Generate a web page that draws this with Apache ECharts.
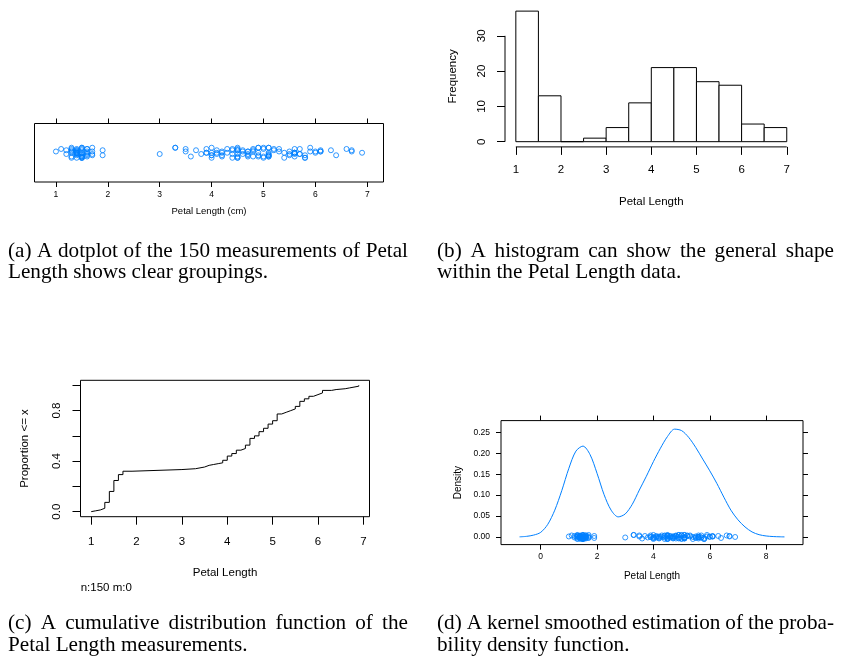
<!DOCTYPE html>
<html>
<head>
<meta charset="utf-8">
<script src="https://cdn.jsdelivr.net/npm/echarts@6/dist/echarts.min.js"></script>
<style>
  html, body { margin: 0; padding: 0; background: #fff; }
  #chart { width: 843px; height: 659px; }
</style>
</head>
<body>
<div id="chart"></div>
<script>
// Petal length (cm) of the 150 iris flowers, in dataset order
const petalLength = [
  1.4,1.4,1.3,1.5,1.4,1.7,1.4,1.5,1.4,1.5,1.5,1.6,1.4,1.1,1.2,1.5,1.3,1.4,1.7,1.5,
  1.7,1.5,1.0,1.7,1.9,1.6,1.6,1.5,1.4,1.6,1.6,1.5,1.5,1.4,1.5,1.2,1.3,1.4,1.3,1.5,
  1.3,1.3,1.3,1.6,1.9,1.4,1.6,1.4,1.5,1.4,
  4.7,4.5,4.9,4.0,4.6,4.5,4.7,3.3,4.6,3.9,3.5,4.2,4.0,4.7,3.6,4.4,4.5,4.1,4.5,3.9,
  4.8,4.0,4.9,4.7,4.3,4.4,4.8,5.0,4.5,3.5,3.8,3.7,3.9,5.1,4.5,4.5,4.7,4.4,4.1,4.0,
  4.4,4.6,4.0,3.3,4.2,4.2,4.2,4.3,3.0,4.1,
  6.0,5.1,5.9,5.6,5.8,6.6,4.5,6.3,5.8,6.1,5.1,5.3,5.5,5.0,5.1,5.3,5.5,6.7,6.9,5.0,
  5.7,4.9,6.7,4.9,5.7,6.0,4.8,4.9,5.6,5.8,6.1,6.4,5.6,5.1,5.6,6.1,5.6,5.5,4.8,5.4,
  5.6,5.1,5.1,5.9,5.7,5.2,5.0,5.2,5.4,5.1
];

// Vertical jitter steps for the strip and rug points (one per flower)
const jitter = [
  2,-1,3,-3,0,1,-4,2,-2,4, 0,-3,1,3,-1,-4,2,0,-2,3, 4,-3,1,-1,-2,0,3,-4,2,-1,
  1,4,-3,0,-2,2,-4,3,1,-1, 0,-3,4,-2,2,-1,3,0,-4,1,
  -2,3,0,-4,1,2,-3,4,-1,0, 3,-2,4,1,-3,-1,2,0,-4,3, 1,-2,4,-1,0,2,-3,3,-4,1,
  -1,2,0,-2,4,-3,1,3,-1,0, -4,2,-2,4,1,-3,0,3,-1,2,
  1,-3,4,0,-2,3,-1,2,-4,1, 0,3,-2,4,-3,1,-1,2,0,-4, 3,-2,1,4,-1,0,2,-3,3,-4,
  1,-2,0,4,-1,2,-3,1,3,-4, 0,-2,4,1,-1,3,-3,2,0,-1
];

// Histogram: bin edges and counts
const histBreaks = [1, 1.5, 2, 2.5, 3, 3.5, 4, 4.5, 5, 5.5, 6, 6.5, 7];
const histCounts = [37, 13, 0, 1, 4, 11, 21, 21, 17, 16, 5, 4];

// Kernel density estimate of petal length
const densityX = [-0.75,-0.5,-0.25,0,0.25,0.5,0.75,1.0,1.25,1.5,1.75,2.0,2.25,2.5,2.75,
  3.0,3.25,3.5,3.75,4.0,4.25,4.5,4.75,5.0,5.25,5.5,5.75,6.0,6.25,6.5,6.75,7.0,7.25,
  7.5,7.75,8.0,8.25,8.5,8.65];
const densityY = [0.0003,0.0015,0.0045,0.011,0.030,0.064,0.111,0.164,0.205,0.217,0.197,
  0.152,0.101,0.064,0.048,0.055,0.078,0.112,0.145,0.180,0.212,0.240,0.2575,0.254,0.238,
  0.214,0.186,0.158,0.128,0.095,0.064,0.041,0.024,0.012,0.0055,0.0024,0.001,0.0004,0.0002];

// Tick values
const ticksDot = [1, 2, 3, 4, 5, 6, 7];
const ticksHistX = [1, 2, 3, 4, 5, 6, 7];
const ticksHistY = [0, 10, 20, 30];
const ticksEcdfX = [1, 2, 3, 4, 5, 6, 7];
const ticksEcdfY = [0, 0.2, 0.4, 0.6, 0.8, 1.0];
const labelsEcdfY = [0, 0.4, 0.8];
const ticksDensX = [0, 2, 4, 6, 8];
const ticksDensY = [0, 0.05, 0.10, 0.15, 0.20, 0.25];

// Sub-figure captions
const captionA = ['(a) A dotplot of the 150 measurements of Petal', 'Length shows clear groupings.'];
const captionB = ['(b) A histogram can show the general shape', 'within the Petal Length data.'];
const captionC = ['(c) A cumulative distribution function of the', 'Petal Length measurements.'];
const captionD = ['(d) A kernel smoothed estimation of the proba-', 'bility density function.'];

const SANS = '"Liberation Sans", Arial, Helvetica, sans-serif';
const SERIF = '"Liberation Serif", "Times New Roman", Times, serif';
const BLUE = '#0080ff';

// Empirical CDF from the sorted measurements
const sorted = petalLength.slice().sort((a, b) => a - b);
const ecdf = [[sorted[0], 0]];
sorted.forEach((v, i) => {
  if (i === sorted.length - 1 || sorted[i + 1] !== v) ecdf.push([v, (i + 1) / sorted.length]);
});

const histData = histCounts.map((c, i) => [histBreaks[i], histBreaks[i + 1], c]);

// Axis ranges
const dotX = [0.587, 7.313];
const histXR = [0.76, 7.24], histYR = [-1.48, 38.48];
const ecdfXR = [0.764, 7.136], ecdfYR = [-0.04, 1.04];
const densXR = [-1.408, 9.308], densYR = [-0.0182, 0.2779];

// Value axis showing ticks (and optionally labels) only where listed
function tickAxis(o) {
  return Object.assign({
    type: 'value',
    splitLine: { show: false },
    nameLocation: 'middle'
  }, o, {
    axisLine: { show: false, onZero: false },
    axisTick: Object.assign({ show: true, lineStyle: { color: '#000', width: 1 } }, o.axisTick || {}),
    axisLabel: Object.assign({ show: true, color: '#000', fontFamily: SANS }, o.axisLabel || {}),
    nameTextStyle: Object.assign({ color: '#000', fontFamily: SANS }, o.nameTextStyle || {})
  });
}

// Caption layout: first line justified to the column width, last line natural
const measureCtx = document.createElement('canvas').getContext('2d');
const capSize = 21.2;
measureCtx.font = capSize + 'px ' + SERIF;
function captionText(str, x, y) {
  return {
    type: 'text', x: x, y: y, silent: true,
    style: { text: str, fontSize: capSize, fontFamily: SERIF, fill: '#000',
             align: 'left', verticalAlign: 'middle' }
  };
}
function caption(lines, left, width, top, lineGap) {
  const els = [];
  lines.forEach((line, li) => {
    const y = top + li * lineGap;
    if (li === lines.length - 1) { els.push(captionText(line, left, y)); return; }
    const words = line.split(' ');
    const widths = words.map(w => measureCtx.measureText(w).width);
    const gap = (width - widths.reduce((a, b) => a + b, 0)) / (words.length - 1);
    let x = left;
    words.forEach((w, i) => { els.push(captionText(w, x, y)); x += widths[i] + gap; });
  });
  return els;
}

const chart = echarts.init(document.getElementById('chart'), null, { renderer: 'canvas' });

const option = {
  backgroundColor: '#fff',
  animation: false,
  grid: [
    { left: 34.5, top: 123.5, width: 349, height: 58.5, show: true, borderColor: '#000', borderWidth: 1, backgroundColor: 'transparent' },
    { left: 505, top: 5.9, width: 292.6, height: 141 },
    { left: 80.5, top: 380.3, width: 289, height: 136.4, show: true, borderColor: '#000', borderWidth: 1, backgroundColor: 'transparent' },
    { left: 501, top: 420.6, width: 302, height: 124, show: true, borderColor: '#000', borderWidth: 1, backgroundColor: 'transparent' }
  ],
  xAxis: [
    tickAxis({ gridIndex: 0, position: 'bottom', min: dotX[0], max: dotX[1],
      axisTick: { customValues: ticksDot, length: 5 },
      axisLabel: { customValues: ticksDot, fontSize: 8.5, margin: 8 },
      name: 'Petal Length (cm)', nameGap: 24, nameTextStyle: { fontSize: 9.5 } }),
    tickAxis({ gridIndex: 0, position: 'top', min: dotX[0], max: dotX[1],
      axisTick: { customValues: ticksDot, length: 5 },
      axisLabel: { show: false } }),
    tickAxis({ gridIndex: 1, position: 'bottom', min: histXR[0], max: histXR[1],
      axisTick: { customValues: ticksHistX, length: 8 },
      axisLabel: { customValues: ticksHistX, fontSize: 11.5, margin: 17 },
      name: 'Petal Length', nameGap: 49, nameTextStyle: { fontSize: 11.5 } }),
    tickAxis({ gridIndex: 2, position: 'bottom', min: ecdfXR[0], max: ecdfXR[1],
      axisTick: { customValues: ticksEcdfX, length: 8 },
      axisLabel: { customValues: ticksEcdfX, fontSize: 11.5, margin: 19 },
      name: 'Petal Length', nameGap: 50, nameTextStyle: { fontSize: 11.5 } }),
    tickAxis({ gridIndex: 3, position: 'bottom', min: densXR[0], max: densXR[1],
      axisTick: { customValues: ticksDensX, length: 5 },
      axisLabel: { customValues: ticksDensX, fontSize: 8.5, margin: 8 },
      name: 'Petal Length', nameGap: 27, nameTextStyle: { fontSize: 10 } }),
    tickAxis({ gridIndex: 3, position: 'top', min: densXR[0], max: densXR[1],
      axisTick: { customValues: ticksDensX, length: 5 },
      axisLabel: { show: false } })
  ],
  yAxis: [
    { gridIndex: 0, type: 'value', min: 0.5, max: 1.5, show: false },
    tickAxis({ gridIndex: 1, position: 'left', min: histYR[0], max: histYR[1],
      axisTick: { customValues: ticksHistY, length: 8 },
      axisLabel: { customValues: ticksHistY, fontSize: 11.5, margin: 17.5, rotate: 90 },
      name: 'Frequency', nameGap: 46.5, nameTextStyle: { fontSize: 11.5 } }),
    tickAxis({ gridIndex: 2, position: 'left', min: ecdfYR[0], max: ecdfYR[1],
      axisTick: { customValues: ticksEcdfY, length: 8 },
      axisLabel: { customValues: labelsEcdfY, fontSize: 11.5, margin: 18, rotate: 90,
                   formatter: v => v.toFixed(1) },
      name: 'Proportion <= x', nameGap: 50, nameTextStyle: { fontSize: 11.5 } }),
    tickAxis({ gridIndex: 3, position: 'left', min: densYR[0], max: densYR[1],
      axisTick: { customValues: ticksDensY, length: 5 },
      axisLabel: { customValues: ticksDensY, fontSize: 8.5, margin: 11,
                   formatter: v => v.toFixed(2) },
      name: 'Density', nameGap: 38, nameTextStyle: { fontSize: 10 } }),
    tickAxis({ gridIndex: 3, position: 'right', min: densYR[0], max: densYR[1],
      axisTick: { customValues: ticksDensY, length: 5 },
      axisLabel: { show: false } })
  ],
  series: [
    // (a) jittered strip of all measurements
    {
      type: 'scatter', xAxisIndex: 0, yAxisIndex: 0, silent: true,
      symbol: 'circle', symbolSize: 5,
      itemStyle: { color: 'rgba(0,0,0,0)', borderColor: BLUE, borderWidth: 1 },
      data: petalLength.map((v, i) => [v, 1 + jitter[i] * 0.0215])
    },
    // (b) histogram bars
    {
      type: 'custom', xAxisIndex: 2, yAxisIndex: 1, silent: true, clip: false,
      data: histData,
      renderItem: (params, api) => {
        const p0 = api.coord([api.value(0), api.value(2)]);
        const p1 = api.coord([api.value(1), 0]);
        return {
          type: 'rect',
          shape: { x: p0[0], y: p0[1], width: p1[0] - p0[0], height: p1[1] - p0[1] },
          style: { fill: '#fff', stroke: '#000', lineWidth: 1 }
        };
      }
    },
    // (b) axis lines spanning the tick range
    {
      type: 'line', xAxisIndex: 2, yAxisIndex: 1, silent: true, clip: false, showSymbol: false,
      lineStyle: { color: '#000', width: 1 },
      data: [[ticksHistX[0], histYR[0]], [ticksHistX[ticksHistX.length - 1], histYR[0]]]
    },
    {
      type: 'line', xAxisIndex: 2, yAxisIndex: 1, silent: true, clip: false, showSymbol: false,
      lineStyle: { color: '#000', width: 1 },
      data: [[histXR[0], ticksHistY[0]], [histXR[0], ticksHistY[ticksHistY.length - 1]]]
    },
    // (c) empirical CDF
    {
      type: 'line', xAxisIndex: 3, yAxisIndex: 2, silent: true, showSymbol: false,
      step: 'end', lineStyle: { color: '#000', width: 1 },
      data: ecdf
    },
    // (d) density curve
    {
      type: 'line', xAxisIndex: 4, yAxisIndex: 3, silent: true, showSymbol: false,
      smooth: 0.3, lineStyle: { color: BLUE, width: 1 },
      data: densityX.map((x, i) => [x, densityY[i]])
    },
    // (d) rug of jittered points
    {
      type: 'scatter', xAxisIndex: 4, yAxisIndex: 3, silent: true,
      symbol: 'circle', symbolSize: 5,
      itemStyle: { color: 'rgba(0,0,0,0)', borderColor: BLUE, borderWidth: 1 },
      data: petalLength.map((v, i) => [v, jitter[i] * 0.0012])
    }
  ],
  graphic: [
    { type: 'text', x: 80.7, y: 588, silent: true,
      style: { text: 'n:150 m:0', fontSize: 11.5, fontFamily: SANS, fill: '#000', align: 'left', verticalAlign: 'middle' } }
  ]
    .concat(caption(captionA, 8, 400, 251, 21.5))
    .concat(caption(captionB, 437, 397, 251, 21.5))
    .concat(caption(captionC, 8, 400, 623.5, 21.5))
    .concat(caption(captionD, 437, 397, 623.5, 21.5))
};

chart.setOption(option);
</script>
</body>
</html>
